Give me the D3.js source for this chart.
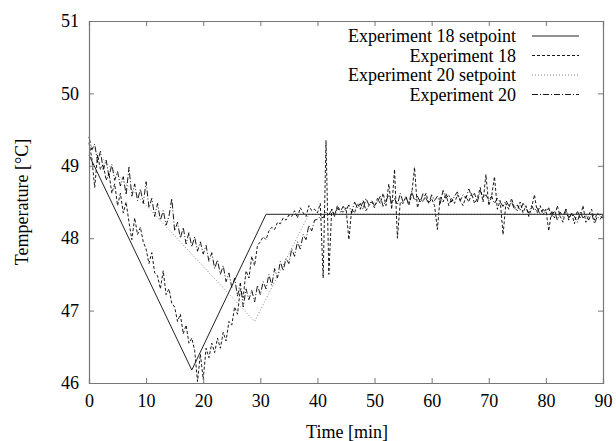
<!DOCTYPE html>
<html><head><meta charset="utf-8">
<script src="https://cdn.jsdelivr.net/npm/d3@7"></script>
<style>body{margin:0;background:#fff}svg{display:block}</style>
</head><body><svg id="c" width="616" height="441"></svg>
<script>
const xTicks = [0,10,20,30,40,50,60,70,80,90];
const yTicks = [46,47,48,49,50,51];
const seriesNames = ["Experiment 18 setpoint","Experiment 18","Experiment 20 setpoint","Experiment 20"];

const sp18Time = [0, 18, 31, 90];
const sp18Temp = [49.15, 46.18, 48.33, 48.33];
const sp20Time = [0, 29, 38.5, 90];
const sp20Temp = [49.3, 46.85, 48.33, 48.33];

const sampleStep = 0.5; // minutes between samples
const exp18Temp = [
49.32,49.10,48.70,49.15,48.95,49.02,48.80,48.90,48.62,48.75,
48.45,48.62,48.35,48.50,48.22,47.98,48.28,48.05,48.15,47.95,
47.85,47.65,47.80,47.52,47.48,47.30,47.55,47.22,47.30,47.10,
47.05,46.85,46.95,46.68,46.80,46.55,46.62,46.45,46.02,46.40,
46.05,46.48,46.35,46.55,46.42,46.62,46.48,46.70,46.58,46.85,
46.80,47.05,46.95,47.30,47.18,47.55,47.45,47.75,47.62,47.90,
47.95,48.02,47.98,48.10,48.15,48.12,48.22,48.20,48.28,48.25,
48.32,48.30,48.38,48.28,48.42,48.35,48.30,48.45,48.38,48.40,
48.35,48.48,47.45,49.35,47.50,48.40,48.32,48.45,48.38,48.36,
48.42,47.98,48.40,48.35,48.48,48.40,48.52,48.38,48.45,48.50,
48.42,48.55,48.48,48.62,48.45,48.75,48.40,48.95,48.00,48.50,
48.48,48.58,48.45,48.60,48.98,48.42,48.55,48.50,48.62,48.48,
48.55,48.45,48.12,48.58,48.50,48.62,48.45,48.55,48.48,48.60,
48.52,48.45,48.58,48.50,48.62,48.48,48.55,48.70,48.50,48.88,
48.45,48.58,48.85,48.40,48.52,48.05,48.48,48.40,48.55,48.42,
48.38,48.50,48.35,48.45,48.30,48.42,48.60,48.35,48.45,48.32,
48.40,48.10,48.38,48.28,48.45,48.30,48.22,48.40,48.25,48.35,
48.20,48.38,48.28,48.45,48.22,48.32,48.40,48.25,48.35,48.30,
48.28];
const exp20Temp = [
49.40,49.22,49.30,49.05,49.20,48.95,49.08,48.85,49.02,48.80,
48.92,48.72,48.85,48.60,48.98,48.58,48.75,48.52,48.68,48.48,
48.78,48.42,48.55,48.30,48.48,48.25,48.38,48.18,48.30,48.55,
48.10,48.22,48.00,48.15,47.92,48.08,47.88,48.02,47.82,47.95,
47.78,47.90,47.68,47.80,47.58,47.70,47.50,47.62,47.40,47.52,
47.32,47.45,47.20,47.38,47.05,47.30,47.15,47.28,47.12,47.35,
47.22,47.40,47.30,47.50,47.35,47.58,47.45,47.68,47.55,47.72,
47.65,47.85,47.75,47.95,47.85,48.05,47.98,48.18,48.10,48.25,
48.26,48.30,48.28,48.36,48.32,48.40,48.30,48.42,48.36,48.44,
48.38,48.46,48.35,48.50,48.42,48.48,48.40,48.55,48.46,48.52,
48.45,48.50,48.58,48.44,48.52,48.60,48.48,48.55,48.46,48.62,
48.50,48.56,48.48,48.65,48.52,48.58,48.50,48.62,48.55,48.48,
48.60,48.52,48.58,48.48,48.66,48.55,48.60,48.50,48.58,48.64,
48.52,48.60,48.55,48.68,48.58,48.62,48.50,48.66,48.56,48.60,
48.52,48.58,48.48,48.55,48.50,48.44,48.52,48.45,48.50,48.40,
48.46,48.38,48.48,48.42,48.35,48.45,48.38,48.42,48.32,48.40,
48.35,48.42,48.30,48.38,48.25,48.36,48.30,48.40,48.28,48.34,
48.30,48.22,48.36,48.28,48.32,48.25,48.35,48.20,48.30,48.26,
48.32];

const W = 616, H = 441;
const m = {left: 89, right: 13, top: 21, bottom: 58};
const FONT = "'Liberation Serif', 'Times New Roman', Times, 'DejaVu Serif', serif";
const FS = 18;
const svg = d3.select("#c");
const x = d3.scaleLinear().domain([0, 90]).range([m.left, W - m.right]);
const y = d3.scaleLinear().domain([46, 51]).range([H - m.bottom, m.top]);

const styles = [
  {stroke:"#222", dash:null, w:1},
  {stroke:"#000", dash:"3,2", w:0.9},
  {stroke:"#666", dash:"1,2", w:0.8},
  {stroke:"#000", dash:"6,2,1,2", w:0.9}
];

const sp18 = sp18Time.map((t,i)=>[t, sp18Temp[i]]);
const sp20 = sp20Time.map((t,i)=>[t, sp20Temp[i]]);
const e18 = exp18Temp.map((v,i)=>[i*sampleStep, v]);
const e20 = exp20Temp.map((v,i)=>[i*sampleStep, v]);
const data = [sp18, e18, sp20, e20];

const line = d3.line().x(d=>x(d[0])).y(d=>y(d[1]));
const g = svg.append("g");
[3,1,2,0].forEach(i=>{
  g.append("path").datum(data[i]).attr("d", line)
   .attr("fill","none").attr("stroke", styles[i].stroke)
   .attr("stroke-width", styles[i].w)
   .attr("stroke-dasharray", styles[i].dash);
});

const frameColor = "#777";
const axB = svg.append("g").attr("transform",`translate(0,${H-m.bottom})`)
  .call(d3.axisBottom(x).tickValues(xTicks).tickSize(-5).tickPadding(11).tickFormat(d3.format("d")));
const axT = svg.append("g").attr("transform",`translate(0,${m.top})`)
  .call(d3.axisTop(x).tickValues(xTicks).tickSize(-5).tickFormat(""));
const axL = svg.append("g").attr("transform",`translate(${m.left},0)`)
  .call(d3.axisLeft(y).tickValues(yTicks).tickSize(-5).tickPadding(10).tickFormat(d3.format("d")));
const axR = svg.append("g").attr("transform",`translate(${W-m.right},0)`)
  .call(d3.axisRight(y).tickValues(yTicks).tickSize(-5).tickFormat(""));
[axB,axT,axL,axR].forEach(a=>{
  a.attr("font-family", null);
  a.select(".domain").attr("stroke",frameColor).attr("stroke-width",1.2);
  a.selectAll(".tick line").attr("stroke",frameColor).attr("stroke-width",1);
  a.selectAll("text").style("font-family",FONT).style("font-size",FS+"px").attr("fill","#000");
});
axB.selectAll("text").attr("dy","0.71em");

svg.append("text").attr("x", (m.left + W - m.right)/2 + 1).attr("y", 438)
  .attr("text-anchor","middle").style("font-family",FONT).style("font-size",FS+"px").text("Time [min]");
svg.append("text").attr("transform",`translate(22,${(m.top + H - m.bottom)/2}) rotate(-90)`)
  .attr("text-anchor","middle").attr("dy","0.35em").style("font-family",FONT).style("font-size",FS+"px").text("Temperature [°C]");

const leg = svg.append("g");
seriesNames.forEach((n,i)=>{
  const yy = 36 + i*19.5;
  leg.append("text").attr("x",516).attr("y",yy).attr("dy","0.35em")
    .attr("text-anchor","end").style("font-family",FONT).style("font-size",FS+"px").text(n);
  leg.append("line").attr("x1",532).attr("x2",579).attr("y1",yy).attr("y2",yy)
    .attr("stroke",styles[i].stroke).attr("stroke-width",styles[i].w)
    .attr("stroke-dasharray",styles[i].dash);
});
</script></body></html>
